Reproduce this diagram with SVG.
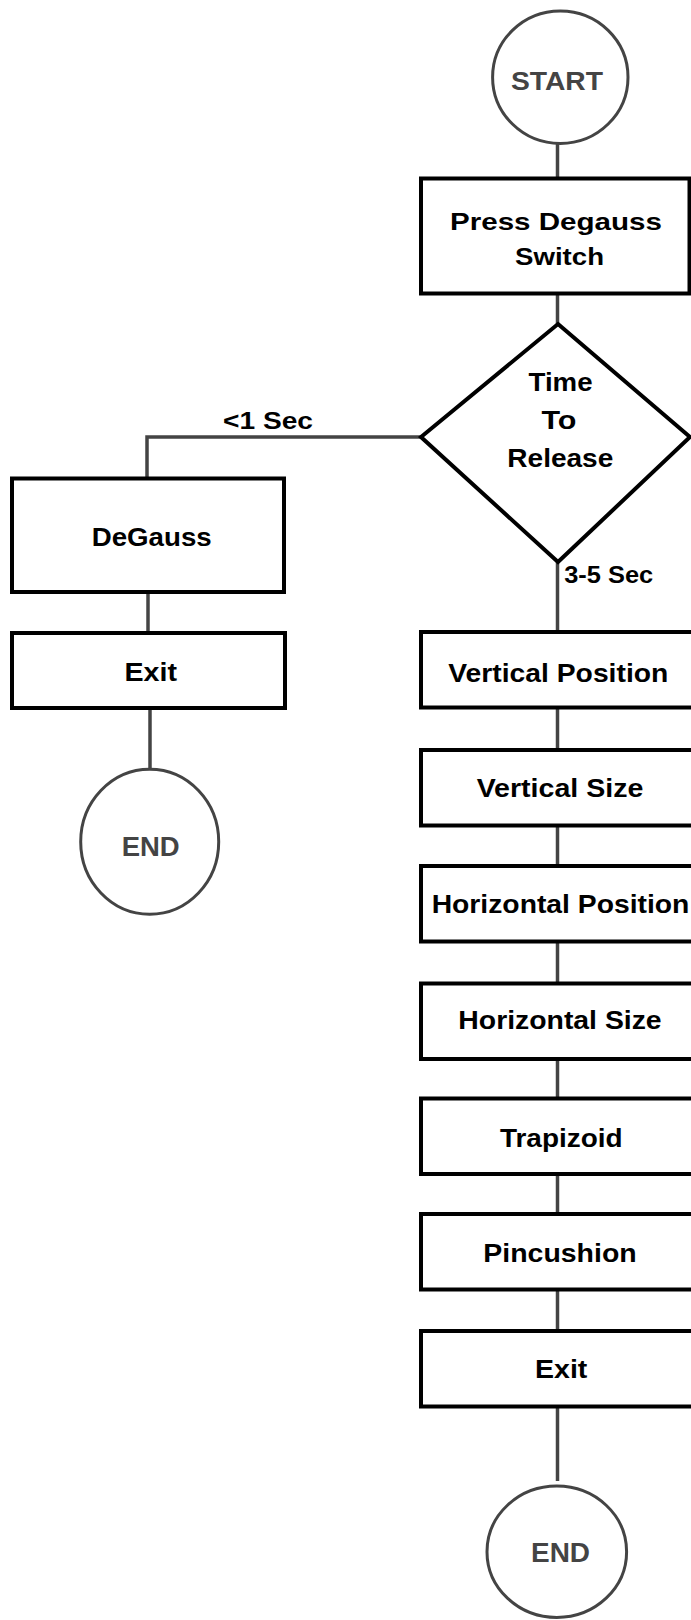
<svg xmlns="http://www.w3.org/2000/svg" width="691" height="1620" viewBox="0 0 691 1620">
<style>
.box{fill:#fff;stroke:#000;stroke-width:4}
.term{fill:#fff;stroke:#444;stroke-width:3}
.conn{fill:none;stroke:#444;stroke-width:3.5}
text{font-family:"Liberation Sans",Arial,sans-serif;font-weight:bold;text-anchor:middle;fill:#000}
.tt{fill:#444}
</style>
<rect width="691" height="1620" fill="#fff"/>
<g id="connectors">
<line class="conn" x1="557.5" y1="144" x2="557.5" y2="178"/>
<line class="conn" x1="557.5" y1="293" x2="557.5" y2="324"/>
<line class="conn" x1="557.5" y1="562" x2="557.5" y2="632"/>
<polyline class="conn" points="421,437 147,437 147,478.5"/>
<line class="conn" x1="148" y1="592" x2="148" y2="633"/>
<line class="conn" x1="150" y1="708" x2="150" y2="769"/>
<line class="conn" x1="557.5" y1="707.5" x2="557.5" y2="750"/>
<line class="conn" x1="557.5" y1="825.5" x2="557.5" y2="866"/>
<line class="conn" x1="557.5" y1="941.5" x2="557.5" y2="983.5"/>
<line class="conn" x1="557.5" y1="1059" x2="557.5" y2="1098.5"/>
<line class="conn" x1="557.5" y1="1174" x2="557.5" y2="1214"/>
<line class="conn" x1="557.5" y1="1289.5" x2="557.5" y2="1331"/>
<line class="conn" x1="557.5" y1="1406.5" x2="557.5" y2="1481"/>
<text x="268" y="428.5" font-size="23" textLength="90" lengthAdjust="spacingAndGlyphs">&lt;1 Sec</text>
<text x="608.7" y="583.3" font-size="23" textLength="89" lengthAdjust="spacingAndGlyphs">3-5 Sec</text>
</g>
<g id="start">
<ellipse class="term" cx="560.3" cy="77.2" rx="67.7" ry="66.2"/>
<text class="tt" x="557" y="90" font-size="26" textLength="92" lengthAdjust="spacingAndGlyphs">START</text>
</g>
<g id="press">
<rect class="box" x="421" y="178.5" width="268.5" height="115"/>
<text x="556" y="230" font-size="24" textLength="212" lengthAdjust="spacingAndGlyphs">Press Degauss</text>
<text x="559.5" y="265" font-size="24" textLength="89" lengthAdjust="spacingAndGlyphs">Switch</text>
</g>
<g id="decision">
<polygon class="box" points="558,324 690,437 558,562 421,437" stroke-width="4.5"/>
<text x="560.5" y="390.7" font-size="26" textLength="64" lengthAdjust="spacingAndGlyphs">Time</text>
<text x="559" y="429" font-size="26" textLength="35" lengthAdjust="spacingAndGlyphs">To</text>
<text x="560.3" y="466.7" font-size="26" textLength="106" lengthAdjust="spacingAndGlyphs">Release</text>
</g>
<g id="degauss">
<rect class="box" x="12" y="478.5" width="272" height="113.5"/>
<text x="151.7" y="545.7" font-size="26" textLength="120" lengthAdjust="spacingAndGlyphs">DeGauss</text>
</g>
<g id="exit-left">
<rect class="box" x="12" y="633" width="273" height="75"/>
<text x="150.7" y="681" font-size="26" textLength="52.5" lengthAdjust="spacingAndGlyphs">Exit</text>
</g>
<g id="end-left">
<ellipse class="term" cx="149.7" cy="841.7" rx="69" ry="72.5"/>
<text class="tt" x="150.7" y="856" font-size="27" textLength="58" lengthAdjust="spacingAndGlyphs">END</text>
</g>
<g id="vpos">
<rect class="box" x="421" y="632" width="290" height="75.5"/>
<text x="558.3" y="681.7" font-size="25.5" textLength="220" lengthAdjust="spacingAndGlyphs">Vertical Position</text>
</g>
<g id="vsize">
<rect class="box" x="421" y="750" width="290" height="75.5"/>
<text x="560" y="796.7" font-size="25.5" textLength="166.7" lengthAdjust="spacingAndGlyphs">Vertical Size</text>
</g>
<g id="hpos">
<rect class="box" x="421" y="866" width="290" height="75.5"/>
<text x="560.5" y="913.3" font-size="25.5" textLength="257.7" lengthAdjust="spacingAndGlyphs">Horizontal Position</text>
</g>
<g id="hsize">
<rect class="box" x="421" y="983.5" width="290" height="75.5"/>
<text x="560" y="1029.3" font-size="25.5" textLength="203.3" lengthAdjust="spacingAndGlyphs">Horizontal Size</text>
</g>
<g id="trap">
<rect class="box" x="421" y="1098.5" width="290" height="75.5"/>
<text x="561.3" y="1146.7" font-size="25.5" textLength="122.7" lengthAdjust="spacingAndGlyphs">Trapizoid</text>
</g>
<g id="pin">
<rect class="box" x="421" y="1214" width="290" height="75.5"/>
<text x="560" y="1261.7" font-size="25.5" textLength="153.3" lengthAdjust="spacingAndGlyphs">Pincushion</text>
</g>
<g id="exit-right">
<rect class="box" x="421" y="1331" width="290" height="75.5"/>
<text x="561.2" y="1378.3" font-size="25.5" textLength="52.3" lengthAdjust="spacingAndGlyphs">Exit</text>
</g>
<g id="end-right">
<ellipse class="term" cx="556.8" cy="1551.7" rx="69.8" ry="65.7"/>
<text class="tt" x="560.5" y="1561.7" font-size="27" textLength="59" lengthAdjust="spacingAndGlyphs">END</text>
</g>
</svg>
